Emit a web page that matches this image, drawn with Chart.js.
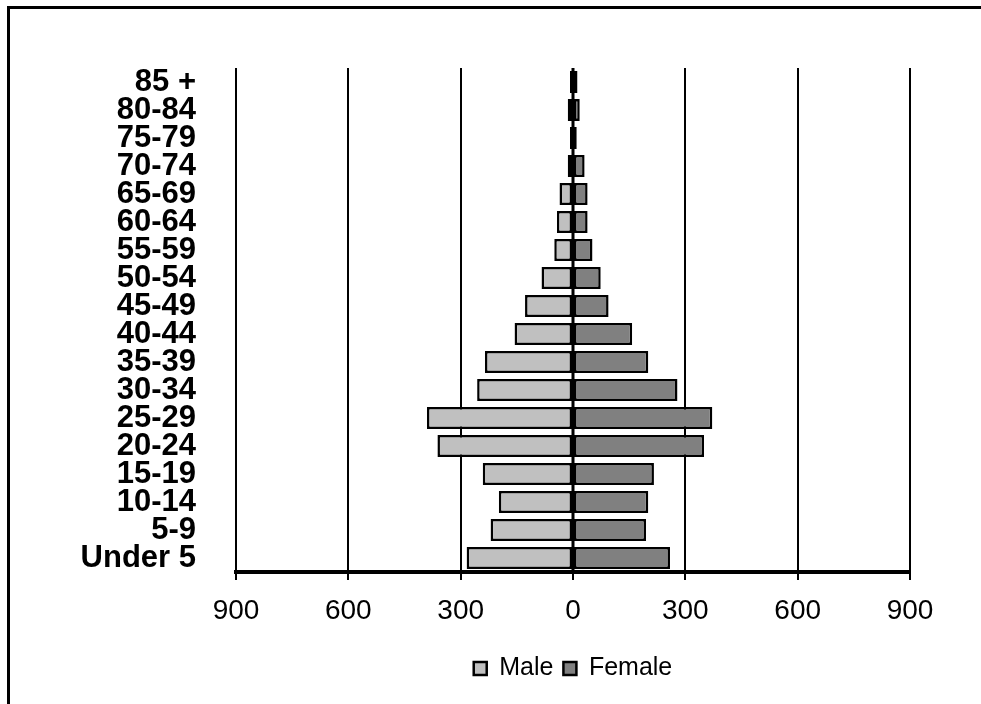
<!DOCTYPE html>
<html>
<head>
<meta charset="utf-8">
<script src="https://cdn.jsdelivr.net/npm/chart.js@4.4.0/dist/chart.umd.min.js"></script>
<style>
  html, body { margin: 0; padding: 0; background: #fff; overflow: hidden; }
  #frame { position: absolute; left: 7px; top: 6px; width: 1100px; height: 800px;
           border-left: 3px solid #000; border-top: 3px solid #000; }
  #wrap { position: absolute; left: 0; top: 0; width: 981px; height: 704px; }
</style>
</head>
<body>
<div id="frame"></div>
<div id="wrap"><canvas id="myChart"></canvas></div>
<script>
// age groups, youngest first (drawn bottom to top)
const ageGroups = ["Under 5", "5-9", "10-14", "15-19", "20-24", "25-29", "30-34", "35-39", "40-44",
                   "45-49", "50-54", "55-59", "60-64", "65-69", "70-74", "75-79", "80-84", "85 +"];
const maleCounts = [284, 220, 198, 241, 362, 390, 256, 235, 156, 128, 84, 50, 43, 36, 14, 8, 14, 8];
const femaleCounts = [259, 195, 201, 216, 350, 372, 279, 201, 158, 95, 74, 52, 39, 39, 31, 10, 18, 12];
const xTicks = [-900, -600, -300, 0, 300, 600, 900];

// zero line drawn over the bars, like the vertical axis in the original
const zeroLine = {
  id: 'zeroLine',
  afterDatasetsDraw(chart) {
    const ctx = chart.ctx;
    const x = chart.scales.x.getPixelForValue(0);
    ctx.save();
    ctx.strokeStyle = '#000';
    ctx.lineWidth = 3;
    ctx.beginPath();
    ctx.moveTo(x, chart.chartArea.top);
    ctx.lineTo(x, chart.chartArea.bottom);
    ctx.stroke();
    ctx.restore();
  }
};

const ctx = document.getElementById('myChart');

new Chart(ctx, {
  type: 'bar',
  data: {
    labels: ageGroups,
    datasets: [{
      label: 'Male',
      data: maleCounts.map(v => -v),
      backgroundColor: '#c0c0c0',
      borderColor: '#000',
      borderWidth: 2.5,
      borderSkipped: false
    }, {
      label: 'Female',
      data: femaleCounts,
      backgroundColor: '#808080',
      borderColor: '#000',
      borderWidth: 2.5,
      borderSkipped: false
    }]
  },
  plugins: [zeroLine],
  options: {
    indexAxis: 'y',
    responsive: true,
    maintainAspectRatio: false,
    animation: false,
    layout: { padding: { left: 10, top: 68, right: 71, bottom: 13 } },
    datasets: { bar: { categoryPercentage: 1, barPercentage: 0.78 } },
    scales: {
      x: {
        stacked: true,
        min: -900,
        max: 900,
        afterBuildTicks(scale) { scale.ticks = xTicks.map(v => ({ value: v })); },
        afterFit(scale) { scale.height = 74; },
        grid: { color: '#000', lineWidth: 2, tickLength: 8, tickColor: '#000' },
        border: { color: '#000', width: 4 },
        ticks: {
          color: '#000',
          padding: 14,
          maxRotation: 0,
          font: { family: "'Liberation Sans', Arial, sans-serif", size: 28 },
          callback: function (value) { return Math.abs(value); }
        }
      },
      y: {
        stacked: true,
        reverse: true,
        afterFit(scale) { scale.width = 226; },
        grid: { display: false, drawTicks: false },
        border: { display: false },
        ticks: {
          color: '#000',
          autoSkip: false,
          padding: 40,
          font: { family: "'Liberation Sans', Arial, sans-serif", size: 31, weight: 'bold' }
        }
      }
    },
    plugins: {
      tooltip: { enabled: false },
      legend: {
        position: 'bottom',
        fullSize: false,
        labels: {
          color: '#000',
          boxWidth: 13,
          boxHeight: 13,
          padding: 10,
          font: { family: "'Liberation Sans', Arial, sans-serif", size: 25 }
        }
      }
    }
  }
});
</script>
</body>
</html>
